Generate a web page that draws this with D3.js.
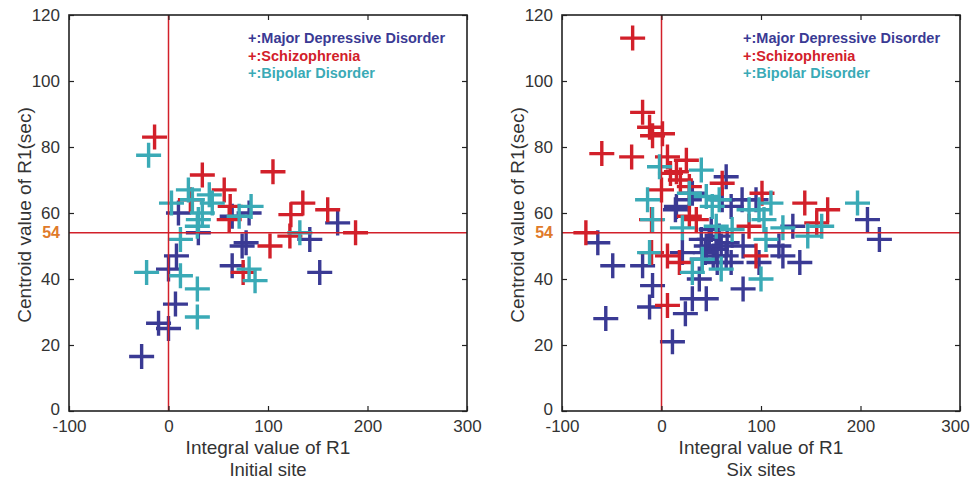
<!DOCTYPE html>
<html>
<head>
<meta charset="utf-8">
<script src="https://cdn.jsdelivr.net/npm/d3@7"></script>
<style>
  body { margin: 0; background: #fff; }
  svg { display: block; font-family: "Liberation Sans", Arial, sans-serif; }
</style>
</head>
<body>
<div id="chart"></div>
<script>
///
/// Data
///
const xTicks = [-100, 0, 100, 200, 300];
const yTicks = [0, 20, 40, 60, 80, 100, 120];
const cutX = 0, cutY = 54;

const seriesNames = ["Major Depressive Disorder", "Schizophrenia", "Bipolar Disorder"];
const seriesColors = ["#3a3a94", "#d2202a", "#3aaab6"];

// initial site
const initialMDD = [[-27,16.5],[-10,26.6],[0,25],[7,32.4],[0,43],[8,47],[10,60],[30,54],
  [64,59],[81,60],[74,50],[64,44],[78,51],[142,52],[152,42],[170,57]];
const initialSCZ = [[-14,83],[34,71.5],[56,67],[62,62],[61,58],[105,72.5],[102,50],
  [122,53],[123,59.5],[135,63],[160,61],[188,54],[75,42],[22,64]];
const initialBPD = [[-20,77.5],[-22,42],[3,63],[12,52],[12,41],[29,37],[29,28.5],[20,67],
  [24,64],[30,58],[29,56],[41,65.5],[44,63],[34,60],[83,62],[71,59],[81,43],[87,39.5],[132,54]];

// six sites
const sixMDD = [[-56,28],[-64,51],[-49,44],[-19,44],[-9,38],[-12,31.5],[11,21],[24,29.5],
  [31,34],[45,34],[38,40],[21,48],[14,61],[28,64],[65,71],[61,64],[48,52],[55,49],[41,46],
  [45,50],[52,47],[58,53],[66,51],[50,55],[82,37],[95,64],[82,50],[98,45],[118,50],[132,56],
  [122,47],[139,45],[207,58],[219,52],[70,62],[40,52],[60,50],[65,47],[44,48],[70,45],
  [31,66],[81,64],[15,62],[56,45]];
const sixSCZ = [[-29,113],[-19,90.5],[-12,86],[-9,83.4],[1,84],[-60,78],[-30,77],[6,77],
  [25,76],[15,72.5],[9,72],[19,70],[28,68],[0,67],[61,69],[101,66],[144,63],[167,61],
  [156,57],[88,56],[-76,54],[-10,58],[28,59],[35,58],[-10,48],[6,47],[18,45],[6,32],[95,47]];
const sixBPD = [[-2,74],[40,73],[-14,64],[-9,58],[-12,48],[28,66],[45,65],[58,64],[21,55.5],
  [55,56],[71,55],[88,61],[110,63],[103,58],[105,52],[122,55.5],[147,53],[161,56],[197,63],
  [100,40],[31,42],[60,43],[41,46],[51,62],[98,61]];

const panels = [
  { sub: "Initial site", left: 69, series: [initialMDD, initialSCZ, initialBPD] },
  { sub: "Six sites", left: 562, series: [sixMDD, sixSCZ, sixBPD] }
];

///
/// Drawing
///
const W = 971, H = 481;
const pw = 398, ph = 396, topY = 15;

const svg = d3.select("#chart").append("svg")
  .attr("width", W).attr("height", H);

const plus = "M-12.5,0H12.5M0,-12.5V12.5";

panels.forEach((p, pi) => {
  const x = d3.scaleLinear().domain([-100, 300]).range([0, pw]);
  const y = d3.scaleLinear().domain([0, 120]).range([ph, 0]);

  const g = svg.append("g").attr("transform", `translate(${p.left},${topY})`);

  // clip so crosses stay in the box
  const cid = "clip" + p.left;
  g.append("clipPath").attr("id", cid)
    .append("rect").attr("width", pw).attr("height", ph);

  const marks = g.append("g").attr("clip-path", `url(#${cid})`);

  p.series.forEach((s, i) => {
    marks.append("g").selectAll("path")
      .data(s)
      .join("path")
      .attr("d", plus)
      .attr("transform", d => `translate(${x(d[0])},${y(d[1])})`)
      .attr("fill", "none")
      .attr("stroke", seriesColors[i])
      .attr("stroke-width", 3.4);
  });

  // red cut lines
  marks.append("line")
    .attr("x1", x(cutX)).attr("x2", x(cutX))
    .attr("y1", 0).attr("y2", ph)
    .attr("stroke", "#d2202a").attr("stroke-width", 1.5);
  marks.append("line")
    .attr("x1", 0).attr("x2", pw)
    .attr("y1", y(cutY)).attr("y2", y(cutY))
    .attr("stroke", "#d2202a").attr("stroke-width", 1.5);

  // axes, ticks inside (matlab style)
  const fmt = d => String(d);
  const ax = [
    [d3.axisBottom(x).tickValues(xTicks).tickFormat(fmt).tickSizeInner(-5).tickSizeOuter(0).tickPadding(9), `translate(0,${ph})`, "x"],
    [d3.axisTop(x).tickValues(xTicks).tickSizeInner(-5).tickSizeOuter(0).tickFormat(""), "translate(0,0)"],
    [d3.axisLeft(y).tickValues(yTicks).tickFormat(fmt).tickSizeInner(-5).tickSizeOuter(0).tickPadding(9), "translate(0,0)", "y"],
    [d3.axisRight(y).tickValues(yTicks).tickSizeInner(-5).tickSizeOuter(0).tickFormat(""), `translate(${pw},0)`]
  ];
  ax.forEach(a => {
    const ag = g.append("g").attr("transform", a[1]).call(a[0]);
    ag.select(".domain").remove();
    ag.selectAll("line").attr("stroke", "#222").attr("stroke-width", 1.2);
    ag.selectAll("text").attr("font-size", 17).attr("fill", "#333")
      .attr("font-family", "Liberation Sans, Arial, sans-serif");
    if (a[2] == "y") {
      // lift the 0 a touch so it clears the -100 under it
      ag.selectAll("text").filter(d => d === 0).attr("dy", "0.2em");
    }
    if (a[2] == "x" && pi == 1) {
      // last x label of right panel sits against the page edge
      ag.selectAll("text").filter(d => d === 300).attr("dx", -5);
    }
  });

  g.append("rect").attr("width", pw).attr("height", ph)
    .attr("fill", "none").attr("stroke", "#222").attr("stroke-width", 1.6);

  // 54 label
  g.append("text")
    .attr("x", -9).attr("y", y(cutY)).attr("dy", "0.35em")
    .attr("text-anchor", "end")
    .attr("font-size", 16).attr("font-weight", "bold")
    .attr("fill", "#e07a2a")
    .text(cutY);

  // axis titles
  g.append("text")
    .attr("x", pw / 2).attr("y", ph + 43)
    .attr("text-anchor", "middle").attr("font-size", 19).attr("fill", "#333")
    .text("Integral value of R1");
  g.append("text")
    .attr("x", pw / 2).attr("y", ph + 65)
    .attr("text-anchor", "middle").attr("font-size", 18.5).attr("fill", "#333")
    .text(p.sub);
  g.append("text")
    .attr("transform", `translate(-38,${ph / 2 + 2}) rotate(-90)`)
    .attr("text-anchor", "middle").attr("font-size", 19).attr("fill", "#333")
    .text("Centroid value of R1(sec)");

  // legend
  const lg = g.append("g").attr("transform", `translate(${p.left < 100 ? 179 : 181},28)`);
  seriesNames.forEach((n, i) => {
    lg.append("text")
      .attr("y", i * 17.5)
      .attr("font-size", 14.5).attr("font-weight", "bold")
      .attr("fill", seriesColors[i])
      .text("+:" + n);
  });
});
</script>
</body>
</html>
